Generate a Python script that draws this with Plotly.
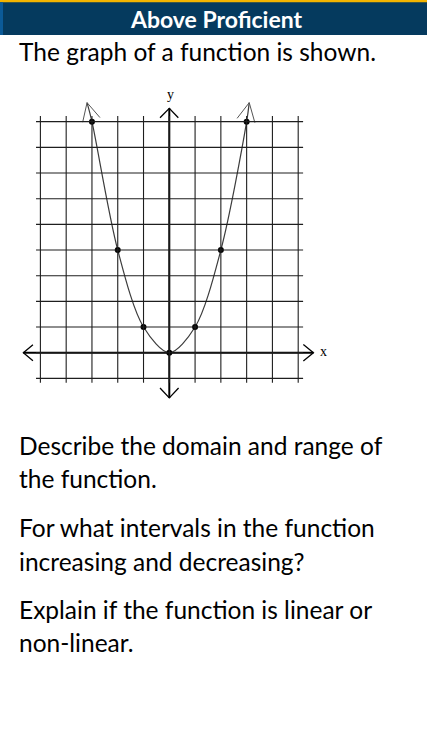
import plotly.graph_objects as go

W, H = 427, 749

# Parabola sample points (x, y) and the curve's arrow tips
pt_x = [-3, -2, -1, 0, 1, 2, 3]
pt_y = [9, 4, 1, 0, 1, 4, 9]
tip_left = (-3.19, 9.74)
tip_right = (3.10, 9.74)

# Grid lines
grid_x = [-5, -4, -3, -2, -1, 0, 1, 2, 3, 4, 5]
grid_y = [-1, 0, 1, 2, 3, 4, 5, 6, 7, 8, 9]

header_text = "Above Proficient"
intro_text = "The graph of a function is shown."
questions = [
    "Describe the domain and range of",
    "the function.",
    "For what intervals in the function",
    "increasing and decreasing?",
    "Explain if the function is linear or",
    "non-linear.",
]
question_px_y = [445, 478, 527, 561, 609, 642]

# pixel geometry of the coordinate plane
X0_PX, Y0_PX = 169.3, 352.7
UX, UY = 25.78, 25.67
x_range = [-X0_PX / UX, (W - X0_PX) / UX]
y_range = [-(H - Y0_PX) / UY, Y0_PX / UY]


def py(p):
    return 1 - p / H


def px(p):
    return p / W


fig = go.Figure()

shapes = []
ext_x = (-5.17, 5.19)
ext_y = (-1.17, 9.22)
for gx in grid_x:
    shapes.append(dict(type="line", xref="x", yref="y", x0=gx, x1=gx,
                       y0=ext_y[0], y1=ext_y[1],
                       line=dict(color="#1e1e1e", width=1.1)))
for gy in grid_y:
    shapes.append(dict(type="line", xref="x", yref="y", x0=ext_x[0], x1=ext_x[1],
                       y0=gy, y1=gy,
                       line=dict(color="#1e1e1e", width=1.1)))

# header band
shapes.append(dict(type="rect", xref="paper", yref="paper", x0=0, x1=1,
                   y0=py(35), y1=py(2), fillcolor="#053a5e", line_width=0, layer="above"))
shapes.append(dict(type="rect", xref="paper", yref="paper", x0=0, x1=1,
                   y0=py(2.3), y1=py(0), fillcolor="#f4b400", line_width=0, layer="above"))
shapes.append(dict(type="rect", xref="paper", yref="paper", x0=0, x1=px(3),
                   y0=py(35), y1=py(2.3), fillcolor="#0b5a98", line_width=0, layer="above"))

# axes with arrow tips
axis_style = dict(color="black", width=2)
fig.add_trace(go.Scatter(x=[-5.66, 5.59], y=[0, 0], mode="lines", line=axis_style,
                         hoverinfo="skip", showlegend=False))
fig.add_trace(go.Scatter(x=[0, 0], y=[-1.76, 9.52], mode="lines", line=axis_style,
                         hoverinfo="skip", showlegend=False))
arrow_style = dict(color="black", width=1.3)
for xs, ys in [
    ([-5.29, -5.66, -5.29], [0.31, 0, -0.31]),
    ([5.2, 5.59, 5.2], [0.32, 0, -0.32]),
    ([-0.36, 0, 0.35], [9.15, 9.52, 9.15]),
    ([-0.36, 0, 0.36], [-1.375, -1.76, -1.375]),
]:
    fig.add_trace(go.Scatter(x=xs, y=ys, mode="lines", line=arrow_style,
                             hoverinfo="skip", showlegend=False))

# the parabola
curve_x = [tip_left[0]] + pt_x + [tip_right[0]]
curve_y = [tip_left[1]] + pt_y + [tip_right[1]]
fig.add_trace(go.Scatter(x=curve_x, y=curve_y, mode="lines",
                         line=dict(color="#3c3c3c", width=1.2, shape="spline", smoothing=0.9),
                         hoverinfo="skip", showlegend=False))
# open arrowheads on the curve ends
curve_arrow = dict(color="#555555", width=1)
fig.add_trace(go.Scatter(x=[-3.36, tip_left[0], -2.69], y=[8.98, tip_left[1], 9.16],
                         mode="lines", line=curve_arrow, hoverinfo="skip", showlegend=False))
fig.add_trace(go.Scatter(x=[2.63, tip_right[0], 3.32], y=[9.13, tip_right[1], 8.96],
                         mode="lines", line=curve_arrow, hoverinfo="skip", showlegend=False))
fig.add_trace(go.Scatter(x=pt_x, y=pt_y, mode="markers",
                         marker=dict(color="black", size=6),
                         hoverinfo="skip", showlegend=False))

annotations = [
    dict(x=0.03, y=10.05, xref="x", yref="y", text="y", showarrow=False,
         font=dict(family="Liberation Serif", size=14, color="black")),
    dict(x=5.98, y=0.05, xref="x", yref="y", text="x", showarrow=False,
         font=dict(family="Liberation Serif", size=14, color="black")),
    dict(x=px(216), y=py(19), xref="paper", yref="paper", text=f"<b>{header_text}</b>",
         showarrow=False, xanchor="center", yanchor="middle",
         font=dict(family="Lato", size=23, color="white")),
    dict(x=px(17), y=py(52), xref="paper", yref="paper", text=intro_text,
         showarrow=False, xanchor="left", yanchor="middle",
         font=dict(family="Lato", size=24.5, color="black")),
]
for t, yy in zip(questions, question_px_y):
    annotations.append(dict(x=px(17), y=py(yy), xref="paper", yref="paper", text=t,
                            showarrow=False, xanchor="left", yanchor="middle",
                            font=dict(family="Lato", size=24.5, color="black")))

fig.update_layout(
    width=W, height=H, margin=dict(l=0, r=0, t=0, b=0),
    paper_bgcolor="white", plot_bgcolor="white",
    xaxis=dict(range=x_range, visible=False, fixedrange=True),
    yaxis=dict(range=y_range, visible=False, fixedrange=True),
    shapes=shapes, annotations=annotations,
)

fig.write_html("out.html")
